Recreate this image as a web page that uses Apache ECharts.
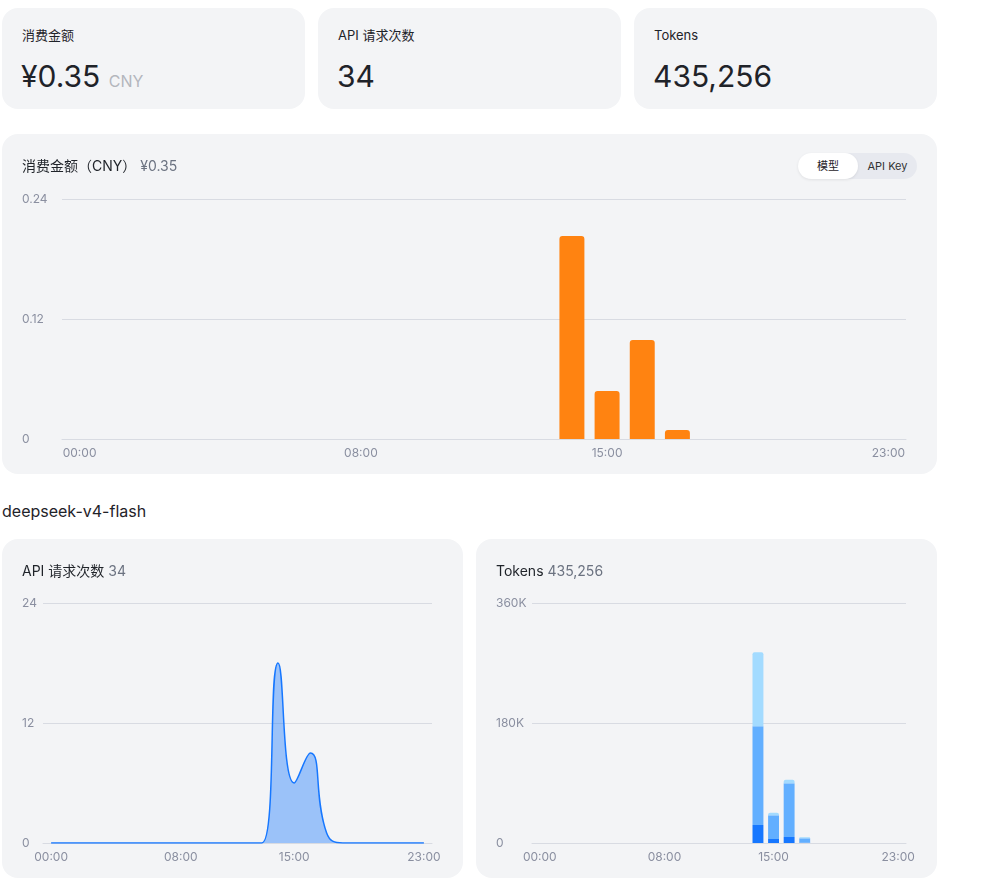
<!DOCTYPE html>
<html>
<head>
<meta charset="utf-8">
<script src="https://cdn.jsdelivr.net/npm/echarts@6/dist/echarts.min.js"></script>
<style>
  body { margin: 0; background: #fff; font-family: Inter, "Noto Sans CJK SC", sans-serif; color: #1f2329; }
  .card { position: absolute; background: #f3f4f6; border-radius: 16px; }
  .stat-label { position: absolute; left: 20px; top: 17px; font-size: 13px; line-height: 20px; }
  .stat-value { position: absolute; left: 19px; top: 50px; font-size: 30px; line-height: 36px; }
  .stat-value small { font-size: 16px; color: #b3b6bd; }
  .title { position: absolute; left: 20px; top: 22px; font-size: 14px; line-height: 20px; z-index: 2; }
  .title span { color: #6b7280; }
  .chart { position: absolute; left: 0; top: 0; width: 100%; height: 100%; }
  .toggle { position: absolute; left: 796px; top: 19px; width: 119px; height: 26px; border-radius: 13px; background: #e7e9ef; font-size: 11px; z-index: 2; }
  .toggle div { position: absolute; top: 0; height: 26px; line-height: 26px; text-align: center; }
  .toggle .on { left: 0; width: 60px; background: #fff; border-radius: 13px; box-shadow: 0 1px 3px rgba(0,0,0,0.08); }
  .toggle .off { left: 60px; width: 59px; color: #333; }
  .model { position: absolute; left: 2px; top: 501px; font-size: 16px; line-height: 20px; }
</style>
</head>
<body>
<div class="card" style="left:2px;top:8px;width:303px;height:101px">
  <div class="stat-label">消费金额</div>
  <div class="stat-value">¥0.35 <small>CNY</small></div>
</div>
<div class="card" style="left:318px;top:8px;width:303px;height:101px">
  <div class="stat-label">API 请求次数</div>
  <div class="stat-value">34</div>
</div>
<div class="card" style="left:634px;top:8px;width:303px;height:101px">
  <div class="stat-label">Tokens</div>
  <div class="stat-value">435,256</div>
</div>

<div class="card" style="left:2px;top:134px;width:935px;height:340px">
  <div class="title">消费金额（CNY） <span>¥0.35</span></div>
  <div class="toggle"><div class="on">模型</div><div class="off">API Key</div></div>
  <div id="costChart" class="chart"></div>
</div>

<div class="model">deepseek-v4-flash</div>

<div class="card" style="left:2px;top:539px;width:461px;height:339px">
  <div class="title">API 请求次数 <span>34</span></div>
  <div id="reqChart" class="chart"></div>
</div>
<div class="card" style="left:476px;top:539px;width:461px;height:339px">
  <div class="title">Tokens <span>435,256</span></div>
  <div id="tokenChart" class="chart"></div>
</div>

<script>
const hours = []
for (let h = 0; h < 24; h++) {
  hours.push((h < 10 ? '0' + h : '' + h) + ':00')
}
const shownHours = [0, 8, 15, 23]

// 消费金额 (CNY) per hour
const costValues = [0, 0, 0, 0, 0, 0, 0, 0, 0, 0, 0, 0, 0, 0, 0.203, 0.048, 0.099, 0.009, 0, 0, 0, 0, 0, 0]
// API 请求次数 per hour
const requestValues = [0, 0, 0, 0, 0, 0, 0, 0, 0, 0, 0, 0, 0, 0, 18, 6, 9, 1, 0, 0, 0, 0, 0, 0]
// tokens per hour, three stacked parts
const tokenOutput = [0, 0, 0, 0, 0, 0, 0, 0, 0, 0, 0, 0, 0, 0, 27000, 6000, 9000, 500, 0, 0, 0, 0, 0, 0]
const tokenCacheMiss = [0, 0, 0, 0, 0, 0, 0, 0, 0, 0, 0, 0, 0, 0, 148000, 35500, 80500, 6500, 0, 0, 0, 0, 0, 0]
const tokenCacheHit = [0, 0, 0, 0, 0, 0, 0, 0, 0, 0, 0, 0, 0, 0, 111000, 4000, 5500, 1500, 0, 0, 0, 0, 0, 0]

const labelColor = '#8a8fa0'
const lineColor = '#d8dbe2'

function xAxis() {
  return {
    type: 'category',
    data: hours,
    axisLine: { lineStyle: { color: lineColor } },
    axisTick: { show: false },
    axisLabel: {
      color: labelColor,
      fontSize: 12,
      margin: 8,
      interval: (i) => shownHours.includes(i)
    }
  }
}

function yAxis(max, interval, margin, formatter) {
  return {
    type: 'value',
    min: 0,
    max: max,
    interval: interval,
    axisLine: { show: false },
    axisTick: { show: false },
    splitLine: { lineStyle: { color: lineColor } },
    axisLabel: {
      color: labelColor,
      fontSize: 12,
      align: 'left',
      margin: margin,
      formatter: formatter
    }
  }
}

const font = { fontFamily: 'Inter, "Noto Sans CJK SC", sans-serif' }

const costChart = echarts.init(document.getElementById('costChart'))
costChart.setOption({
  textStyle: font,
  animation: false,
  grid: { left: 60, right: 31, top: 65, bottom: 35 },
  xAxis: xAxis(),
  yAxis: yAxis(0.24, 0.12, 40),
  series: [{
    type: 'bar',
    data: costValues,
    barWidth: '71%',
    itemStyle: { color: '#ff8311', borderRadius: [3, 3, 0, 0] }
  }]
})

const reqChart = echarts.init(document.getElementById('reqChart'))
reqChart.setOption({
  textStyle: font,
  animation: false,
  grid: { left: 41, right: 31, top: 64, bottom: 35 },
  xAxis: xAxis(),
  yAxis: yAxis(24, 12, 21),
  series: [{
    type: 'line',
    data: requestValues,
    smooth: true,
    showSymbol: false,
    lineStyle: { color: '#1677ff', width: 1.5 },
    areaStyle: { color: '#1677ff', opacity: 0.4 }
  }]
})

const tokenChart = echarts.init(document.getElementById('tokenChart'))
tokenChart.setOption({
  textStyle: font,
  animation: false,
  grid: { left: 56, right: 31, top: 64, bottom: 35 },
  xAxis: xAxis(),
  yAxis: yAxis(360000, 180000, 36, (v) => v === 0 ? '0' : (v / 1000) + 'K'),
  series: [
    { name: '输出', type: 'bar', stack: 'tokens', data: tokenOutput, barWidth: '70%', itemStyle: { color: '#1677ff' } },
    { name: '输入（缓存未命中）', type: 'bar', stack: 'tokens', data: tokenCacheMiss, itemStyle: { color: '#62afff' } },
    { name: '输入（缓存命中）', type: 'bar', stack: 'tokens', data: tokenCacheHit, itemStyle: { color: '#a3dbff', borderRadius: [2, 2, 0, 0] } }
  ]
})
</script>
</body>
</html>
